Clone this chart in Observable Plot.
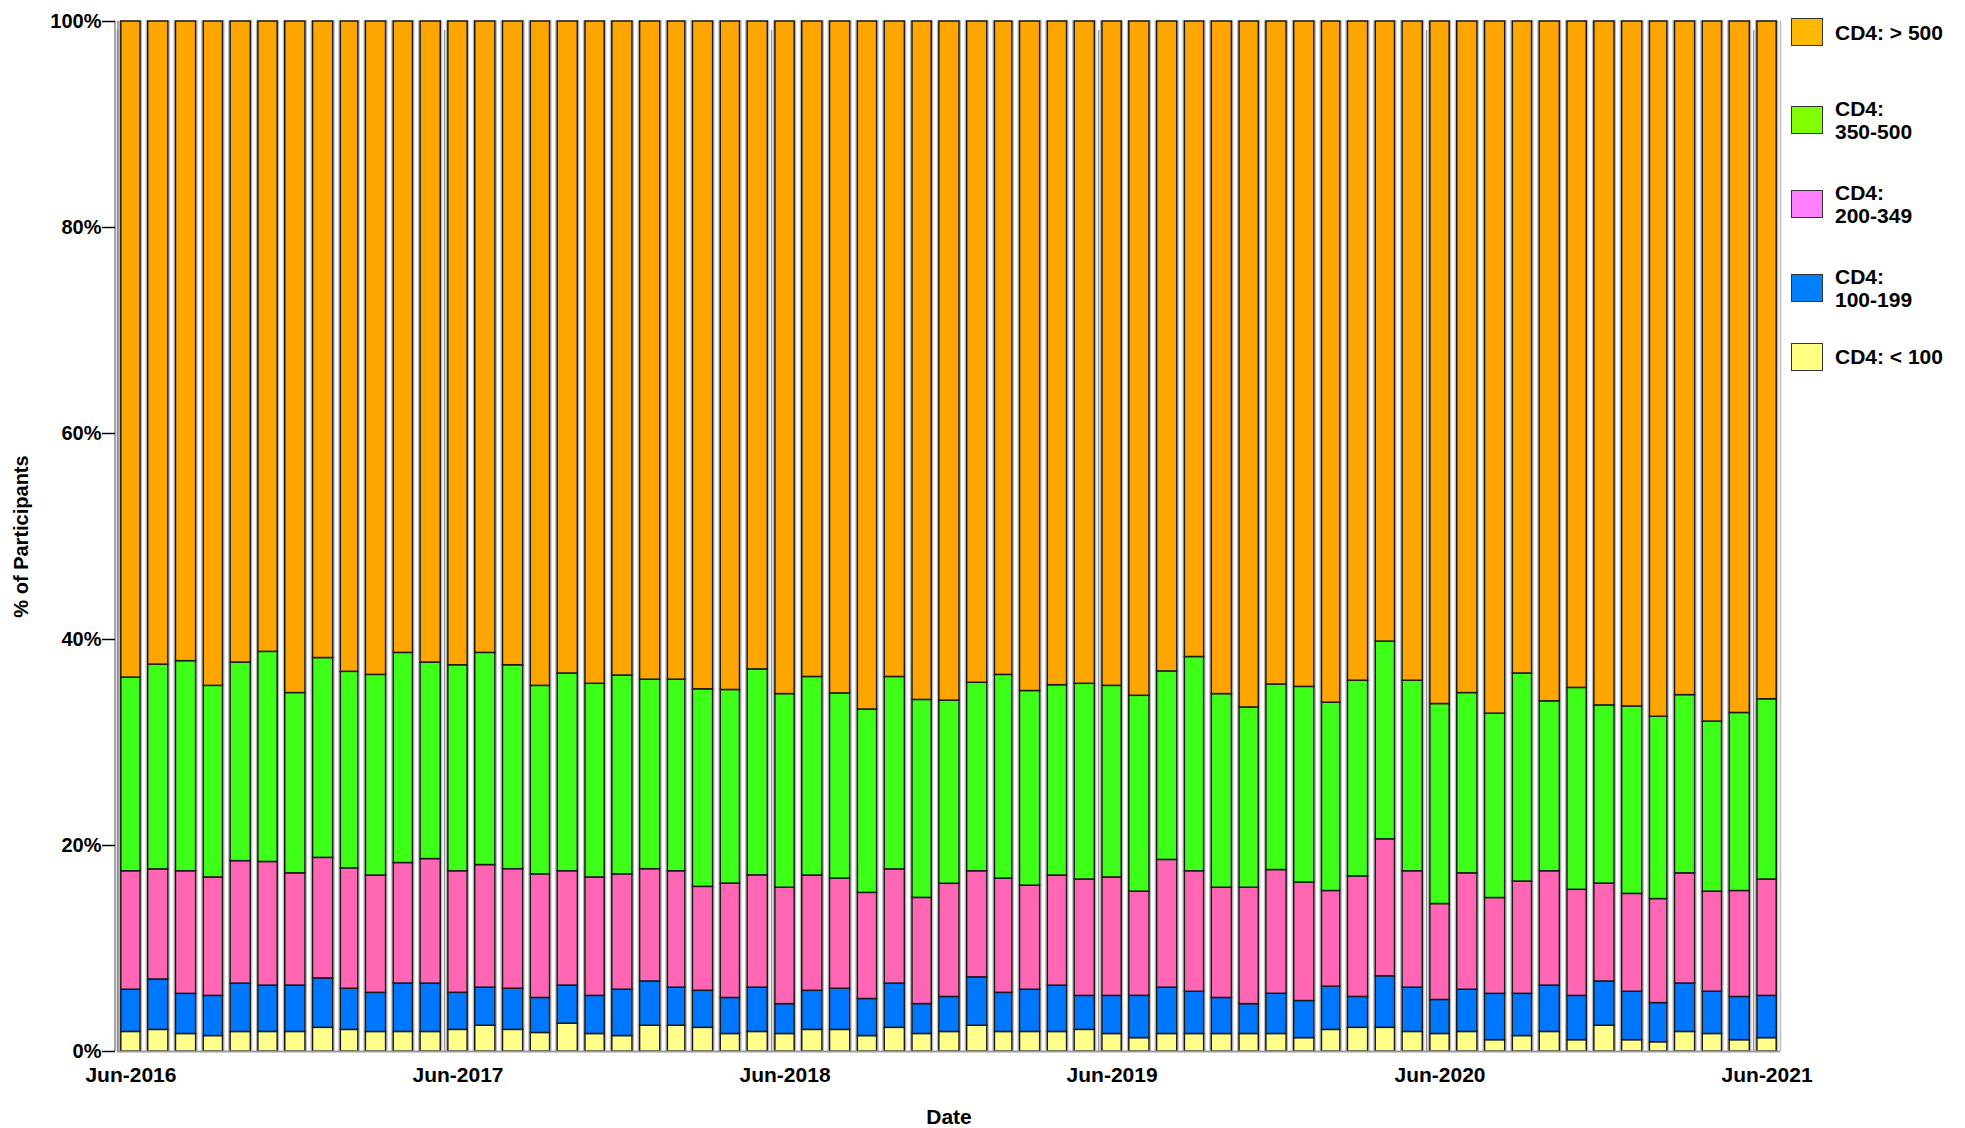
<!DOCTYPE html>
<html><head><meta charset="utf-8">
<script src="https://cdn.jsdelivr.net/npm/d3@7"></script>
<script src="https://cdn.jsdelivr.net/npm/@observablehq/plot@0.6"></script>
<style>
html,body{margin:0;padding:0;background:#fff;}
#wrap{position:relative;width:1965px;height:1128px;overflow:hidden;}
#legend{position:absolute;left:1791px;top:0;font:bold 21px "Liberation Sans",Arial,sans-serif;color:#000;}
.item{position:absolute;left:0;display:flex;align-items:center;transform:translateY(-50%);white-space:nowrap;}
.sw{width:30px;height:26px;border:1px solid #333;flex:none;}
.lab{margin-left:12px;line-height:23px;}
</style></head><body><div id="wrap"></div>
<script>
// Series (bottom to top of each bar)
const series = ["CD4: < 100", "CD4: 100-199", "CD4: 200-349", "CD4: 350-500", "CD4: > 500"];
const barColors = ["#FFFF8A", "#0077FF", "#FF66B3", "#3EFF17", "#FFA500"];
const legendColors = ["#FFFF80", "#0080FF", "#FF80FF", "#80FF00", "#FFB800"];
const legendLabels = ["CD4: > 500", "CD4:\n350-500", "CD4:\n200-349", "CD4:\n100-199", "CD4: < 100"];

// Months: Jun-2016 .. Jun-2021 (61 bars)
const firstMonth = new Date(Date.UTC(2016, 5, 1));
const monthCount = 61;
const months = d3.utcMonth.range(firstMonth, d3.utcMonth.offset(firstMonth, monthCount));

const xTickLabels = ["Jun-2016", "Jun-2017", "Jun-2018", "Jun-2019", "Jun-2020", "Jun-2021"];
const yTicks = [0, 0.2, 0.4, 0.6, 0.8, 1.0];

// Percent of participants per month
const lt100 = [1.9,2.1,1.7,1.5,1.9,1.9,1.9,2.3,2.1,1.9, 1.9,1.9,2.1,2.5,2.1,1.8,2.7,1.7,1.5,2.5, 2.5,2.3,1.7,1.9,1.7,2.1,2.1,1.5,2.3,1.7, 1.9,2.5,1.9,1.9,1.9,2.1,1.7,1.3,1.7,1.7, 1.7,1.7,1.7,1.3,2.1,2.3,2.3,1.9,1.7,1.9, 1.1,1.5,1.9,1.1,2.5,1.1,0.9,1.9,1.7,1.1,1.3];
const c100_199 = [4.1,4.9,3.9,3.9,4.7,4.5,4.5,4.8,4.0,3.8, 4.7,4.7,3.6,3.7,4.0,3.4,3.7,3.7,4.5,4.3, 3.7,3.6,3.5,4.3,2.9,3.8,4.0,3.6,4.3,2.9, 3.4,4.7,3.8,4.1,4.5,3.3,3.7,4.1,4.5,4.1, 3.5,2.9,3.9,3.6,4.2,3.0,5.0,4.3,3.3,4.1, 4.5,4.1,4.5,4.3,4.3,4.7,3.8,4.7,4.1,4.2,4.1];
const c200_349 = [11.5,10.7,11.9,11.5,11.9,12.0,10.9,11.7,11.7,11.4, 11.7,12.1,11.8,11.9,11.6,12.0,11.1,11.5,11.2,10.9, 11.3,10.1,11.1,10.9,11.3,11.2,10.7,10.3,11.1,10.3, 11.0,10.3,11.1,10.1,10.7,11.3,11.5,10.1,12.4,11.7, 10.7,11.3,12.0,11.5,9.3,11.7,13.3,11.3,9.3,11.3, 9.3,10.9,11.1,10.3,9.5,9.5,10.1,10.7,9.7,10.3,11.3];
const c350_500 = [18.8,19.9,20.4,18.6,19.3,20.4,17.5,19.4,19.1,19.5, 20.4,19.1,20.0,20.6,19.8,18.3,19.2,18.8,19.3,18.4, 18.6,19.2,18.8,20.0,18.8,19.3,18.0,17.8,18.7,19.2, 17.8,18.3,19.8,18.9,18.5,19.0,18.6,19.0,18.3,20.8, 18.8,17.5,18.0,19.0,18.3,19.0,19.2,18.5,19.4,17.5, 17.9,20.2,16.5,19.6,17.3,18.2,17.7,17.3,16.5,17.3,17.5];
const gt500 = [63.7,62.5,62.1,64.5,62.3,61.2,65.2,61.8,63.2,63.5, 61.3,62.3,62.5,61.3,62.5,64.5,63.3,64.3,63.5,63.9, 63.9,64.9,64.9,62.9,65.3,63.7,65.3,66.8,63.7,65.8, 66.0,64.2,63.5,65.0,64.5,64.3,64.5,65.4,63.1,61.7, 65.3,66.6,64.3,64.6,66.2,64.0,60.2,64.0,66.2,65.2, 67.2,63.3,66.0,64.7,66.4,66.5,67.5,65.4,67.9,67.2,65.8];

const seriesValues = [lt100, c100_199, c200_349, c350_500, gt500];

const data = [];
months.forEach((m, i) => {
  const end = d3.utcMonth.offset(m, 1);
  series.forEach((s, k) => data.push({date: m, end, series: s, value: seriesValues[k][i]}));
});

const junStarts = months.filter(m => m.getUTCMonth() === 5);
const tickLabelData = junStarts.map((m, i) => ({
  x: new Date((+m + +d3.utcMonth.offset(m, 1)) / 2),
  label: xTickLabels[i]
}));
const lastEnd = d3.utcMonth.offset(months[months.length - 1], 1);

const font = '"Liberation Sans", Arial, sans-serif';

const chart = Plot.plot({
  width: 1965,
  height: 1128,
  marginLeft: 117,
  marginRight: 185,
  marginTop: 21,
  marginBottom: 77,
  style: {fontFamily: font, fontSize: "21px", fontWeight: "bold", color: "#000", background: "#fff", overflow: "visible"},
  x: {type: "utc", domain: [firstMonth, lastEnd], axis: null},
  y: {domain: [0, 1], axis: null},
  color: {domain: series, range: barColors},
  marks: [
    Plot.ruleX(junStarts, {x: d => d, y1: 0, y2: 1, insetBottom: -9, stroke: "#9a9a9a", strokeWidth: 1.5}),
    Plot.ruleX([lastEnd], {stroke: "#bbbbbb", strokeWidth: 1.5}),
    Plot.rectY(months, {x1: d => d, x2: d => d3.utcMonth.offset(d, 1), y1: 0, y2: 1, insetLeft: 2.4, insetRight: 2.4, fill: "none", stroke: "#b8b8b8", strokeWidth: 1.2}),
    Plot.rectY(data, {x1: "date", x2: "end", y: "value", fill: "series", offset: "normalize", insetLeft: 3.8, insetRight: 3.8, stroke: "#1a1a1a", strokeWidth: 1.5}),
    Plot.ruleY([0], {stroke: "#9a9a9a", strokeWidth: 2}),
    Plot.ruleX([firstMonth], {stroke: "#8a8a8a", strokeWidth: 1.5, dx: -2.5}),
    Plot.ruleX([firstMonth], {stroke: "#8a8a8a", strokeWidth: 1.5, dx: 0.5}),
    Plot.axisY({ticks: yTicks, tickFormat: d => Math.round(d * 100) + "%", tickSize: 13, tickPadding: 1, stroke: "#000", strokeWidth: 1.5, fontSize: 20, fontWeight: "bold", label: null, dx: -2}),
    Plot.text(tickLabelData, {x: "x", text: "label", frameAnchor: "bottom", dy: 30, fontSize: 21, fontWeight: "bold", fill: "#000"}),
    Plot.text(["Date"], {frameAnchor: "bottom", dy: 72, fontSize: 21, fontWeight: "bold", fill: "#000"}),
    Plot.text(["% of Participants"], {frameAnchor: "left", dx: -96, rotate: -90, textAnchor: "middle", fontSize: 20, fontWeight: "bold", fill: "#000"})
  ]
});

const wrap = document.getElementById("wrap");
wrap.appendChild(chart);

const legend = document.createElement("div");
legend.id = "legend";
const legendCenters = [32, 119.5, 203.5, 288, 356.5];
const legendOrder = [4, 3, 2, 1, 0];
legendOrder.forEach((k, j) => {
  const item = document.createElement("div");
  item.className = "item";
  item.style.top = legendCenters[j] + "px";
  const sw = document.createElement("div");
  sw.className = "sw";
  sw.style.background = legendColors[k];
  const lab = document.createElement("div");
  lab.className = "lab";
  lab.innerHTML = legendLabels[j].replace(/&/g, "&amp;").replace(/</g, "&lt;").replace(/>/g, "&gt;").replace("\n", "<br>");
  item.appendChild(sw);
  item.appendChild(lab);
  legend.appendChild(item);
});
wrap.appendChild(legend);
</script>
</body></html>
